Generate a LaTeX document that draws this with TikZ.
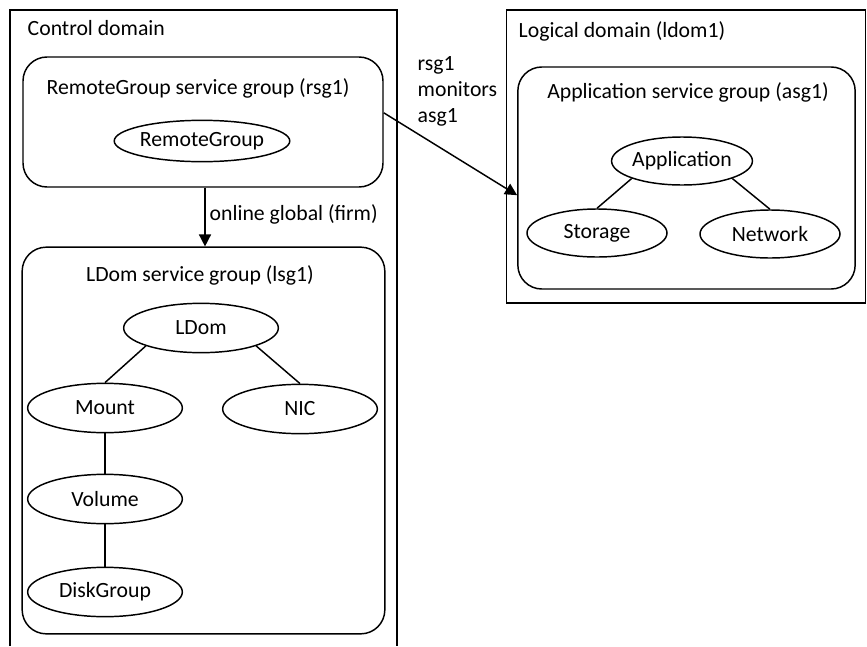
\documentclass[tikz,border=0pt]{standalone}
\usepackage{fontspec}
\setmainfont{Carlito}
\usetikzlibrary{arrows.meta, shapes.geometric, calc}
\tikzset{
  every picture/.style={font=\fontsize{16.3}{19.5}\selectfont, line width=1.1pt},
  group/.style={draw, rounded corners=18pt, minimum width=#1},
  res/.style={draw, ellipse, inner sep=0pt, minimum width=#1, minimum height=37pt},
  res/.default=116pt,
  arrow/.style={-{Triangle[length=9pt, width=9pt]}},
  title/.style={inner sep=0pt},
}
\begin{document}
\begin{tikzpicture}[x=0.75pt, y=-0.75pt]
  \useasboundingbox (0,0) rectangle (867,646);
  % control domain (open at the bottom)
  \draw (10,646) -- (10,10) -- (397,10) -- (397,646);
  \node[title, anchor=west] (ctltitle) at (27,28) {Control domain};
  % remote group service group
  \node[group=270pt, minimum height=97.5pt] (rsg) at (203,122) {};
  \node[title] (rsgtitle) at (198,88) {RemoteGroup service group (rsg1)};
  \node[res=119pt, minimum height=31pt] (remote) at (202,141) {RemoteGroup};
  % ldom service group
  \node[group=272pt, minimum height=290pt] (lsg) at (203.5,440.5) {};
  \node[title] (lsgtitle) at (200,275) {LDom service group (lsg1)};
  \node[res] (ldom) at (201,328) {LDom};
  \node[res] (mount) at (105,408) {Mount};
  \node[res] (nic) at (300,409) {NIC};
  \node[res] (volume) at (105,499) {Volume};
  \node[res] (disk) at (105,592) {DiskGroup};
  \draw (ldom.south west) -- (mount.north);
  \draw (ldom.south east) -- (nic.north);
  \draw (mount) -- (volume);
  \draw (volume) -- (disk);
  \draw[arrow] (rsg.south -| 205,0) -- (lsg.north -| 205,0) node[midway, right, inner sep=3pt, yshift=2pt] (dep) {online global (firm)};
  % logical domain
  \node[draw, minimum width=269pt, minimum height=220pt] (ldom1) at (686,156.5) {};
  \node[title, anchor=west] (ldomtitle) at (518,31) {Logical domain (ldom1)};
  \node[group=253pt, minimum height=166.5pt] (asg) at (686.5,178) {};
  \node[title] (asgtitle) at (688,92) {Application service group (asg1)};
  \node[res=105pt, minimum height=36pt] (app) at (682,161) {Application};
  \node[res=105pt, minimum height=36pt] (storage) at (597,233) {Storage};
  \node[res=105pt, minimum height=36pt] (network) at (770,234) {Network};
  \draw (app.south west) -- (storage.north);
  \draw (app.south east) -- (network.north);
  % monitoring link
  \draw[arrow] ($(rsg.north east)!0.43!(rsg.south east)$) -- ($(asg.north west)!0.577!(asg.south west)$);
  \node[title, anchor=base west, align=left] (mon) at (417,122) {rsg1\\monitors\\asg1};
\end{tikzpicture}
\end{document}
